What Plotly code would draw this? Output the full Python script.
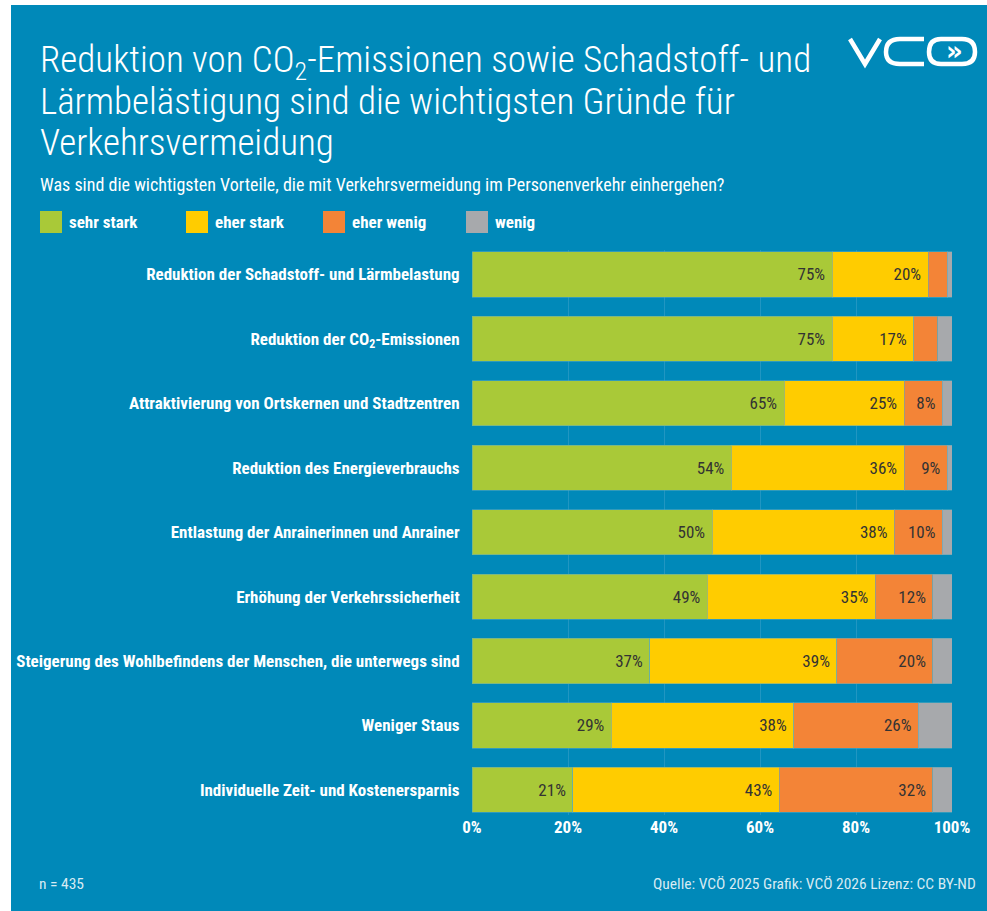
import plotly.graph_objects as go

W, H = 987, 911
ML, MR, MT, MB = 472, 35, 250, 96

categories = [
    "Reduktion der Schadstoff- und Lärmbelastung",
    "Reduktion der CO<sub>2</sub>-Emissionen",
    "Attraktivierung von Ortskernen und Stadtzentren",
    "Reduktion des Energieverbrauchs",
    "Entlastung der Anrainerinnen und Anrainer",
    "Erhöhung der Verkehrssicherheit",
    "Steigerung des Wohlbefindens der Menschen, die unterwegs sind",
    "Weniger Staus",
    "Individuelle Zeit- und Kostenersparnis",
]
series_names = ["sehr stark", "eher stark", "eher wenig", "wenig"]
sehr_stark = [75, 75, 65, 54, 50, 49, 37, 29, 21]
eher_stark = [20, 17, 25, 36, 38, 35, 39, 38, 43]
eher_wenig = [4, 5, 8, 9, 10, 12, 20, 26, 32]
wenig = [1, 3, 2, 1, 2, 4, 4, 7, 4]
colors = ["#A9C938", "#FFCC00", "#F38437", "#A7A9AC"]
x_tickvals = [0, 20, 40, 60, 80, 100]
x_ticktext = ["0%", "20%", "40%", "60%", "80%", "100%"]

title_lines = [
    "Reduktion von CO<sub>2</sub>-Emissionen sowie Schadstoff- und",
    "Lärmbelästigung sind die wichtigsten Gründe für",
    "Verkehrsvermeidung",
]
subtitle = "Was sind die wichtigsten Vorteile, die mit Verkehrsvermeidung im Personenverkehr einhergehen?"
note_left = "n = 435"
note_right = "Quelle: VCÖ 2025 Grafik: VCÖ 2026 Lizenz: CC BY-ND"

BG = "#0089B9"
FONT = "Roboto Condensed, Roboto, sans-serif"

PW = W - ML - MR
PH = H - MT - MB


def px(x):
    return (x - ML) / PW


def py(y):
    return (H - MB - y) / PH


fig = go.Figure()
all_vals = [sehr_stark, eher_stark, eher_wenig, wenig]
for name, vals, col in zip(series_names, all_vals, colors):
    texts = [f"{v}%\u00a0" if (v >= 8 and name != "wenig") else "" for v in vals]
    fig.add_trace(go.Bar(
        y=list(range(len(categories))), x=vals, name=name, orientation="h",
        marker=dict(color=col, line=dict(color="rgba(90,170,190,0.55)", width=1)),
        text=texts, textposition="inside", insidetextanchor="end",
        textangle=0, constraintext="none",
        insidetextfont=dict(family=FONT, size=17, color="#333333"),
        hoverinfo="x+name", showlegend=False,
    ))

fig.update_layout(
    width=W, height=H, barmode="stack", bargap=0.3,
    paper_bgcolor=BG, plot_bgcolor=BG,
    margin=dict(l=ML, r=MR, t=MT, b=MB),
    font=dict(family=FONT, color="white"),
    uniformtext=dict(minsize=17, mode="show"),
)
fig.update_xaxes(
    range=[0, 100], tickvals=x_tickvals, ticktext=x_ticktext,
    showgrid=True, gridcolor="#2196C2", gridwidth=1, zeroline=False,
    tickfont=dict(family=FONT, size=17, color="white", weight="bold"),
    ticks="", fixedrange=True,
)
fig.update_yaxes(
    tickvals=list(range(len(categories))), ticktext=categories,
    range=[8.39, -0.38], showgrid=False, zeroline=False,
    tickfont=dict(family=FONT, size=17, color="white", weight="bold"),
    ticks="outside", ticklen=8, tickcolor="rgba(0,0,0,0)", fixedrange=True,
)

shapes = [
    dict(type="rect", xref="paper", yref="paper", x0=px(0), x1=px(11), y0=py(H), y1=py(0),
         fillcolor="white", line=dict(width=0), layer="below"),
    dict(type="rect", xref="paper", yref="paper", x0=px(0), x1=px(W), y0=py(5), y1=py(0),
         fillcolor="white", line=dict(width=0), layer="below"),
]
annotations = []

# title
for i, line in enumerate(title_lines):
    annotations.append(dict(
        x=px(38), y=py(62 + 40 * i), xref="paper", yref="paper", xanchor="left", yanchor="middle",
        text=line, showarrow=False, font=dict(family=FONT, size=37, color="white", weight=300),
    ))
annotations.append(dict(
    x=px(38), y=py(184), xref="paper", yref="paper", xanchor="left", yanchor="middle",
    text=subtitle, showarrow=False, font=dict(family=FONT, size=18, color="white"),
))

# legend
leg_x = [40, 186, 323, 466]
for name, col, lx in zip(series_names, colors, leg_x):
    shapes.append(dict(type="rect", xref="paper", yref="paper",
                       x0=px(lx), x1=px(lx + 22), y0=py(233), y1=py(211),
                       fillcolor=col, line=dict(width=0)))
    annotations.append(dict(
        x=px(lx + 27), y=py(222), xref="paper", yref="paper", xanchor="left", yanchor="middle",
        text=f"<b>{name}</b>", showarrow=False, font=dict(family=FONT, size=17, color="white"),
    ))

# footer
annotations.append(dict(x=px(37), y=py(884), xref="paper", yref="paper", xanchor="left",
                        yanchor="middle", text=note_left, showarrow=False,
                        font=dict(family=FONT, size=15.5, color="rgba(255,255,255,0.85)")))
annotations.append(dict(x=px(978), y=py(884), xref="paper", yref="paper", xanchor="right",
                        yanchor="middle", text=note_right, showarrow=False,
                        font=dict(family=FONT, size=15.5, color="rgba(255,255,255,0.85)")))

# logo
def P(x, y):
    return f"{px(x):.5f},{py(y):.5f}"

shapes.append(dict(type="path", xref="paper", yref="paper",
                   path=f"M {P(850,39)} L {P(865,64)} L {P(880,39)}",
                   line=dict(color="white", width=4.5)))
shapes.append(dict(type="path", xref="paper", yref="paper",
                   path=f"M {P(924,39)} L {P(900,39)} Q {P(886,39)} {P(886,52)} Q {P(886,64)} {P(900,64)} L {P(924,64)}",
                   line=dict(color="white", width=4.5)))
shapes.append(dict(type="path", xref="paper", yref="paper",
                   path=(f"M {P(941,39)} L {P(962,39)} Q {P(975,39)} {P(975,52)} Q {P(975,64)} {P(962,64)} "
                         f"L {P(941,64)} Q {P(929,64)} {P(929,52)} Q {P(929,39)} {P(941,39)} Z"),
                   line=dict(color="white", width=4.5)))
annotations.append(dict(x=px(954), y=py(51), xref="paper", yref="paper", xanchor="center",
                        yanchor="middle", text="<b>»</b>", showarrow=False,
                        font=dict(family="DejaVu Sans", size=26, color="white")))

fig.update_layout(shapes=shapes, annotations=annotations)
fig.write_html(
    "out.html",
    config={"displayModeBar": False},
    post_script="document.body.style.margin='0';document.body.style.overflow='hidden';",
)
